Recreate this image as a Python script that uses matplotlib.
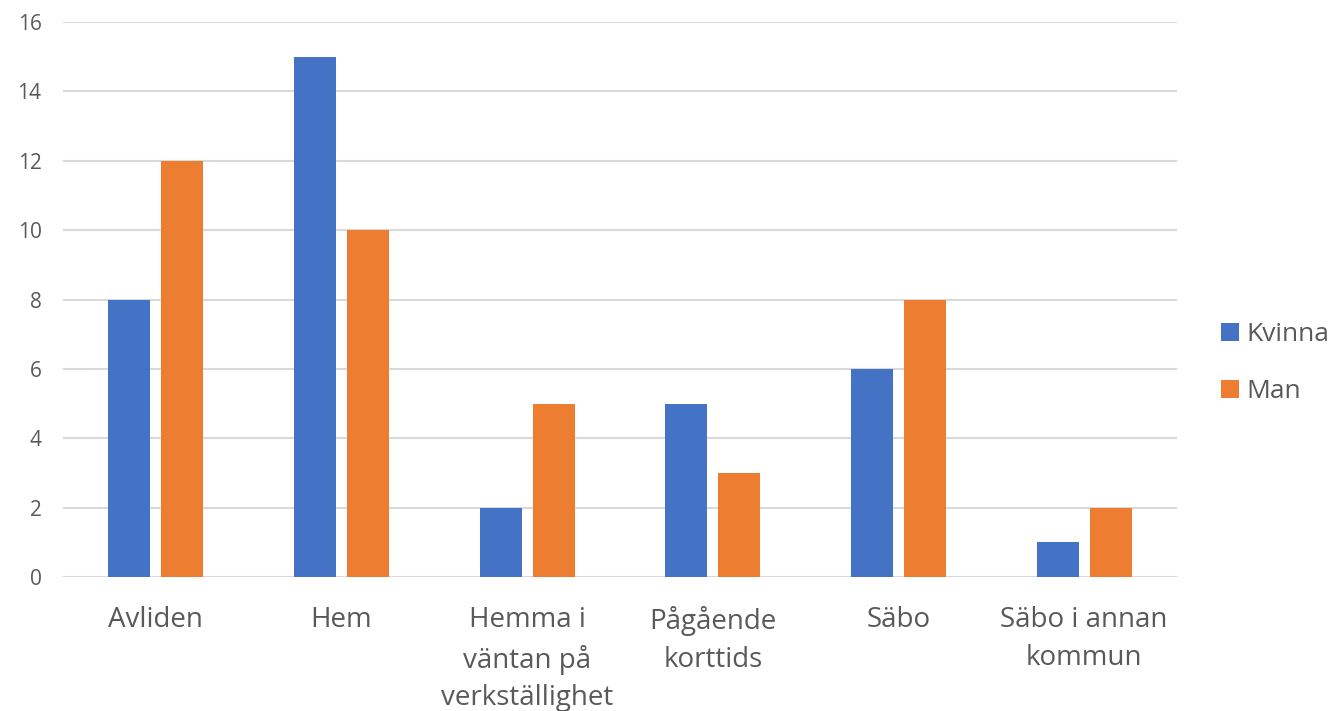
import matplotlib
matplotlib.use("Agg")
import matplotlib.pyplot as plt
import numpy as np

categories = ["Avliden", "Hem", "Hemma i\nväntan på\nverkställighet",
              "Pågående\nkorttids", "Säbo", "Säbo i annan\nkommun"]
kvinna = [8, 15, 2, 5, 6, 1]
man = [12, 10, 5, 3, 8, 2]
series_names = ["Kvinna", "Man"]
y_ticks = [0, 2, 4, 6, 8, 10, 12, 14, 16]

blue = "#4472C4"
orange = "#ED7D31"
text_col = "#595959"
grid_col = "#D9D9D9"

plt.rcParams["font.family"] = ["Open Sans", "DejaVu Sans"]

fig = plt.figure(figsize=(13.41, 7.11), dpi=100)
ax = fig.add_axes([63 / 1341, 1 - 577 / 711, (1177 - 63) / 1341, (577 - 22) / 711])

x = np.arange(len(categories))
w = 0.226
off = 0.143
ax.bar(x - off, kvinna, w, color=blue, label=series_names[0], zorder=3)
ax.bar(x + off, man, w, color=orange, label=series_names[1], zorder=3)

ax.set_xlim(-0.5, len(categories) - 0.5)
ax.set_ylim(0, 16)
ax.set_yticks(y_ticks)
ax.set_yticklabels([str(t) for t in y_ticks], fontsize=15, color=text_col)
ax.set_xticks(x)
ax.set_xticklabels(categories, fontsize=20, color=text_col, linespacing=1.45,
                   va="top")
ax.tick_params(axis="both", length=0)
ax.tick_params(axis="y", pad=15.5)
ax.tick_params(axis="x", pad=21)
ax.grid(axis="y", color=grid_col, linewidth=1.5, zorder=0)
for s in ax.spines.values():
    s.set_visible(False)

leg = fig.legend(loc="center left", bbox_to_anchor=(1197 / 1341, 1 - 363 / 711),
                 frameon=False, fontsize=19, handlelength=0.68, handleheight=0.68,
                 handletextpad=0.3, labelspacing=1.2, labelcolor=text_col)

fig.savefig("out.png", dpi=100)
